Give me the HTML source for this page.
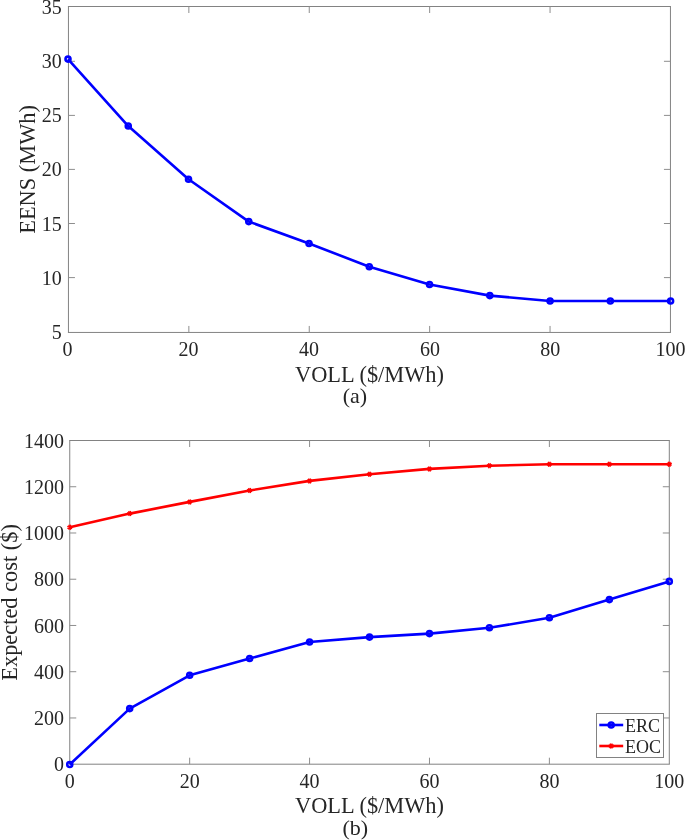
<!DOCTYPE html>
<html lang="en"><head><meta charset="utf-8"><title>EENS and expected cost versus VOLL</title>
<style>
html,body{margin:0;padding:0;background:#fff;}
body{width:685px;height:840px;overflow:hidden;}
svg{display:block;}
text{font-family:"Liberation Serif",serif;fill:#262626;}
.tk{font-size:20px;}
.lb{font-size:22.4px;}
.lg{font-size:18px;}
.cp{font-size:22px;}
.tk2{stroke:#8e8e8e;stroke-width:1;fill:none;}
.tkl{stroke:#828282;stroke-width:1;fill:none;}
.ax{stroke:#828282;stroke-width:1;fill:none;shape-rendering:crispEdges;}
</style></head><body>
<svg width="685" height="840" viewBox="0 0 685 840">
<rect width="685" height="840" fill="#fff"/>

<g id="plot-a">
<path class="tkl" d="M67.95 6.5H670.95M67.95 332.45H670.95M68.45 6.5V332.45M670.45 6.5V332.45"/>
<path class="tk2" d="M188.85 332.45 v-6.5 M188.85 6.5 v6.5 M309.25 332.45 v-6.5 M309.25 6.5 v6.5 M429.65 332.45 v-6.5 M429.65 6.5 v6.5 M550.05 332.45 v-6.5 M550.05 6.5 v6.5 M68.45 277.6 h6.5 M670.45 277.6 h-6.5 M68.45 223.5 h6.5 M670.45 223.5 h-6.5 M68.45 169.4 h6.5 M670.45 169.4 h-6.5 M68.45 115.4 h6.5 M670.45 115.4 h-6.5 M68.45 61.3 h6.5 M670.45 61.3 h-6.5"/>
<polyline points="68,59.1 128.26,126.05 188.52,179.3 248.78,221.6 309.04,243.5 369.3,266.7 429.56,284.5 489.82,295.6 550.08,301 610.34,301 670.6,301" fill="none" stroke="#0000ff" stroke-width="2.6" stroke-linejoin="round"/>
<circle cx="68" cy="59.1" r="2.5" fill="none" stroke="#0000ff" stroke-width="2.6"/>
<circle cx="128.26" cy="126.05" r="2.5" fill="none" stroke="#0000ff" stroke-width="2.6"/>
<circle cx="188.52" cy="179.3" r="2.5" fill="none" stroke="#0000ff" stroke-width="2.6"/>
<circle cx="248.78" cy="221.6" r="2.5" fill="none" stroke="#0000ff" stroke-width="2.6"/>
<circle cx="309.04" cy="243.5" r="2.5" fill="none" stroke="#0000ff" stroke-width="2.6"/>
<circle cx="369.3" cy="266.7" r="2.5" fill="none" stroke="#0000ff" stroke-width="2.6"/>
<circle cx="429.56" cy="284.5" r="2.5" fill="none" stroke="#0000ff" stroke-width="2.6"/>
<circle cx="489.82" cy="295.6" r="2.5" fill="none" stroke="#0000ff" stroke-width="2.6"/>
<circle cx="550.08" cy="301" r="2.5" fill="none" stroke="#0000ff" stroke-width="2.6"/>
<circle cx="610.34" cy="301" r="2.5" fill="none" stroke="#0000ff" stroke-width="2.6"/>
<circle cx="670.6" cy="301" r="2.5" fill="none" stroke="#0000ff" stroke-width="2.6"/>
<text class="tk" x="67.6" y="356.2" text-anchor="middle">0</text>
<text class="tk" x="188.5" y="356.2" text-anchor="middle">20</text>
<text class="tk" x="309" y="356.2" text-anchor="middle">40</text>
<text class="tk" x="429.9" y="356.2" text-anchor="middle">60</text>
<text class="tk" x="550.2" y="356.2" text-anchor="middle">80</text>
<text class="tk" x="670.55" y="356.2" text-anchor="middle">100</text>
<text class="tk" x="61.8" y="339.45" text-anchor="end">5</text>
<text class="tk" x="61.8" y="284.6" text-anchor="end">10</text>
<text class="tk" x="61.8" y="230.5" text-anchor="end">15</text>
<text class="tk" x="61.8" y="176.4" text-anchor="end">20</text>
<text class="tk" x="61.8" y="122.4" text-anchor="end">25</text>
<text class="tk" x="61.8" y="68.3" text-anchor="end">30</text>
<text class="tk" x="61.8" y="14.3" text-anchor="end">35</text>
<text class="lb" x="369.5" y="381.6" text-anchor="middle">VOLL ($/MWh)</text>
<text class="cp" x="355" y="403.2" text-anchor="middle">(a)</text>
<text class="lb" transform="translate(34.5 169.4) rotate(-90)" text-anchor="middle">EENS (MWh)</text>
</g>
<g id="plot-b">
<path class="tkl" d="M69.25 440.5H669.8M69.25 764.2H669.8M69.75 440.5V764.2M669.3 440.5V764.2"/>
<path class="tk2" d="M189.66 764.2 v-6.5 M189.66 440.5 v6.5 M309.57 764.2 v-6.5 M309.57 440.5 v6.5 M429.48 764.2 v-6.5 M429.48 440.5 v6.5 M549.39 764.2 v-6.5 M549.39 440.5 v6.5 M69.75 717.96 h6.5 M669.3 717.96 h-6.5 M69.75 671.71 h6.5 M669.3 671.71 h-6.5 M69.75 625.47 h6.5 M669.3 625.47 h-6.5 M69.75 579.23 h6.5 M669.3 579.23 h-6.5 M69.75 532.99 h6.5 M669.3 532.99 h-6.5 M69.75 486.74 h6.5 M669.3 486.74 h-6.5"/>
<polyline points="69.75,764.5 129.7,708.6 189.66,675.3 249.61,658.5 309.57,642 369.52,637.1 429.48,633.6 489.43,627.8 549.39,617.8 609.35,599.6 669.3,581.4" fill="none" stroke="#0000ff" stroke-width="2.6" stroke-linejoin="round"/>
<circle cx="69.75" cy="764.5" r="2.5" fill="none" stroke="#0000ff" stroke-width="2.6"/>
<circle cx="129.7" cy="708.6" r="2.5" fill="none" stroke="#0000ff" stroke-width="2.6"/>
<circle cx="189.66" cy="675.3" r="2.5" fill="none" stroke="#0000ff" stroke-width="2.6"/>
<circle cx="249.61" cy="658.5" r="2.5" fill="none" stroke="#0000ff" stroke-width="2.6"/>
<circle cx="309.57" cy="642" r="2.5" fill="none" stroke="#0000ff" stroke-width="2.6"/>
<circle cx="369.52" cy="637.1" r="2.5" fill="none" stroke="#0000ff" stroke-width="2.6"/>
<circle cx="429.48" cy="633.6" r="2.5" fill="none" stroke="#0000ff" stroke-width="2.6"/>
<circle cx="489.43" cy="627.8" r="2.5" fill="none" stroke="#0000ff" stroke-width="2.6"/>
<circle cx="549.39" cy="617.8" r="2.5" fill="none" stroke="#0000ff" stroke-width="2.6"/>
<circle cx="609.35" cy="599.6" r="2.5" fill="none" stroke="#0000ff" stroke-width="2.6"/>
<circle cx="669.3" cy="581.4" r="2.5" fill="none" stroke="#0000ff" stroke-width="2.6"/>
<polyline points="69.75,527.3 129.7,513.6 189.66,501.9 249.61,490.5 309.57,480.9 369.52,474.2 429.48,468.9 489.43,465.7 549.39,464.2 609.35,464.2 669.3,464.2" fill="none" stroke="#ff0000" stroke-width="2.6" stroke-linejoin="round"/>
<path d="M67.26 526.27L72.24 528.33M68.72 524.81L70.78 529.79M70.78 524.81L68.72 529.79M72.24 526.27L67.26 528.33" stroke="#ff0000" stroke-width="1.3" fill="none"/>
<path d="M127.21 512.57L132.2 514.63M128.67 511.11L130.74 516.09M130.74 511.11L128.67 516.09M132.2 512.57L127.21 514.63" stroke="#ff0000" stroke-width="1.3" fill="none"/>
<path d="M187.17 500.87L192.15 502.93M188.63 499.41L190.69 504.39M190.69 499.41L188.63 504.39M192.15 500.87L187.17 502.93" stroke="#ff0000" stroke-width="1.3" fill="none"/>
<path d="M247.12 489.47L252.11 491.53M248.58 488.01L250.65 492.99M250.65 488.01L248.58 492.99M252.11 489.47L247.12 491.53" stroke="#ff0000" stroke-width="1.3" fill="none"/>
<path d="M307.08 479.87L312.06 481.93M308.54 478.41L310.6 483.39M310.6 478.41L308.54 483.39M312.06 479.87L307.08 481.93" stroke="#ff0000" stroke-width="1.3" fill="none"/>
<path d="M367.03 473.17L372.02 475.23M368.49 471.71L370.56 476.69M370.56 471.71L368.49 476.69M372.02 473.17L367.03 475.23" stroke="#ff0000" stroke-width="1.3" fill="none"/>
<path d="M426.99 467.87L431.97 469.93M428.45 466.41L430.51 471.39M430.51 466.41L428.45 471.39M431.97 467.87L426.99 469.93" stroke="#ff0000" stroke-width="1.3" fill="none"/>
<path d="M486.94 464.67L491.93 466.73M488.4 463.21L490.47 468.19M490.47 463.21L488.4 468.19M491.93 464.67L486.94 466.73" stroke="#ff0000" stroke-width="1.3" fill="none"/>
<path d="M546.9 463.17L551.88 465.23M548.36 461.71L550.42 466.69M550.42 461.71L548.36 466.69M551.88 463.17L546.9 465.23" stroke="#ff0000" stroke-width="1.3" fill="none"/>
<path d="M606.85 463.17L611.84 465.23M608.31 461.71L610.38 466.69M610.38 461.71L608.31 466.69M611.84 463.17L606.85 465.23" stroke="#ff0000" stroke-width="1.3" fill="none"/>
<path d="M666.81 463.17L671.79 465.23M668.27 461.71L670.33 466.69M670.33 461.71L668.27 466.69M671.79 463.17L666.81 465.23" stroke="#ff0000" stroke-width="1.3" fill="none"/>
<text class="tk" x="69.75" y="787.8" text-anchor="middle">0</text>
<text class="tk" x="189.66" y="787.8" text-anchor="middle">20</text>
<text class="tk" x="309.57" y="787.8" text-anchor="middle">40</text>
<text class="tk" x="429.48" y="787.8" text-anchor="middle">60</text>
<text class="tk" x="549.39" y="787.8" text-anchor="middle">80</text>
<text class="tk" x="669.3" y="787.8" text-anchor="middle">100</text>
<text class="tk" x="64.1" y="771.4" text-anchor="end">0</text>
<text class="tk" x="64.1" y="725.16" text-anchor="end">200</text>
<text class="tk" x="64.1" y="678.91" text-anchor="end">400</text>
<text class="tk" x="64.1" y="632.67" text-anchor="end">600</text>
<text class="tk" x="64.1" y="586.43" text-anchor="end">800</text>
<text class="tk" x="64.1" y="540.19" text-anchor="end">1000</text>
<text class="tk" x="64.1" y="493.94" text-anchor="end">1200</text>
<text class="tk" x="64.1" y="447.7" text-anchor="end">1400</text>
<text class="lb" x="369.5" y="813.1" text-anchor="middle">VOLL ($/MWh)</text>
<text class="cp" x="355.3" y="835.2" text-anchor="middle">(b)</text>
<text class="lb" transform="translate(17.4 602.4) rotate(-90)" text-anchor="middle">Expected cost ($)</text>
<rect class="ax" x="596.5" y="713.5" width="67" height="44" fill="#fff" style="fill:#fff"/>
<path d="M599.3 725 H623.2" stroke="#0000ff" stroke-width="2.6" fill="none"/>
<circle cx="611.2" cy="725" r="2.5" fill="none" stroke="#0000ff" stroke-width="2.6"/>
<path d="M599.3 746 H623.2" stroke="#ff0000" stroke-width="2.6" fill="none"/>
<path d="M608.71 744.97L613.69 747.03M610.17 743.51L612.23 748.49M612.23 743.51L610.17 748.49M613.69 744.97L608.71 747.03" stroke="#ff0000" stroke-width="1.3" fill="none"/>
<text class="lg" x="625" y="731.5">ERC</text>
<text class="lg" x="625" y="752.6">EOC</text>
</g>
</svg></body></html>
